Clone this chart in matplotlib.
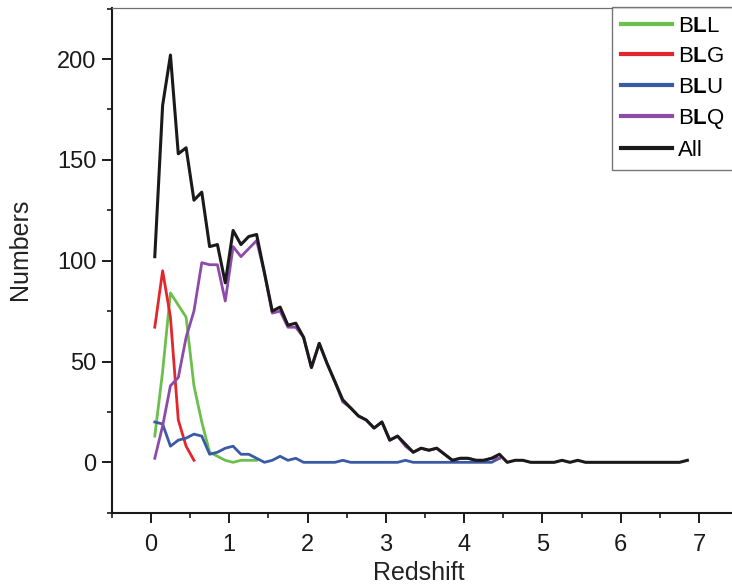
import matplotlib
matplotlib.use("Agg")
import matplotlib.pyplot as plt
from matplotlib.ticker import MultipleLocator

plt.rcParams['font.family'] = ['Liberation Sans', 'DejaVu Sans']
plt.rcParams['mathtext.fontset'] = 'custom'
plt.rcParams['mathtext.rm'] = 'Liberation Sans'
plt.rcParams['mathtext.bf'] = 'Liberation Sans:bold'

# redshift bin centres (bin width 0.1)
z_all = [round(0.05 + 0.1 * i, 2) for i in range(69)]

n_all = [102, 177, 202, 153, 156, 130, 134, 107, 108, 89,
         115, 108, 112, 113, 94, 75, 77, 68, 69, 62,
         47, 59, 49, 40, 31, 27, 23, 21, 17, 20,
         11, 13, 9, 5, 7, 6, 7, 4, 1, 2,
         2, 1, 1, 2, 4, 0, 1, 1, 0, 0,
         0, 0, 1, 0, 1, 0, 0, 0, 0, 0,
         0, 0, 0, 0, 0, 0, 0, 0, 1]

n_bll = [13, 45, 84, 78, 72, 38, 20, 5, 3, 1, 0, 1, 1, 1]
n_blg = [67, 95, 72, 21, 8, 1]
n_blu = [20, 19, 8, 11, 12, 14, 13, 4, 5, 7,
         8, 4, 4, 2, 0, 1, 3, 1, 2, 0,
         0, 0, 0, 0, 1, 0, 0, 0, 0, 0,
         0, 0, 1, 0, 0, 0, 0, 0, 0, 0,
         0, 0, 0, 0, 2]
n_blq = [2, 18, 38, 42, 62, 75, 99, 98, 98, 80,
         107, 102, 106, 110, 94, 74, 75, 67, 67, 62,
         47, 59, 49, 40, 30, 27, 23, 21, 17, 20,
         11, 13, 8, 5, 7, 6, 7, 4, 1, 2,
         2, 1, 1, 2, 2]

series = [
    ('B$\\mathbf{L}$L', n_bll, '#6cbf4c'),
    ('B$\\mathbf{L}$G', n_blg, '#e3262b'),
    ('B$\\mathbf{L}$U', n_blu, '#3b5aa6'),
    ('B$\\mathbf{L}$Q', n_blq, '#8e4aa8'),
    ('All', n_all, '#1a1a1a'),
]

fig = plt.figure(figsize=(7.32, 5.88), dpi=100)
ax = fig.add_axes([0.1526, 0.128, 0.856, 0.859])

# draw the sub-classes first, the total on top
for label, vals, color in series[:4]:
    ax.plot(z_all[:len(vals)], vals, color=color, lw=2.0, label=label)
ax.plot(z_all, n_all, color=series[4][2], lw=2.2, label=series[4][0])

ax.set_xlim(-0.5, 7.5)
ax.set_ylim(-25, 225.5)
ax.xaxis.set_major_locator(MultipleLocator(1))
ax.xaxis.set_minor_locator(MultipleLocator(0.5))
ax.yaxis.set_major_locator(MultipleLocator(50))
ax.yaxis.set_minor_locator(MultipleLocator(25))

for side in ['left', 'bottom']:
    ax.spines[side].set_linewidth(1.5)
    ax.spines[side].set_color('#1a1a1a')
ax.spines['top'].set_linewidth(0.9)
ax.spines['top'].set_color('#707070')
ax.spines['right'].set_visible(False)

ax.tick_params(which='major', direction='out', length=7, width=1.4,
               labelsize=17, colors='#1a1a1a', top=False, right=False)
ax.tick_params(which='minor', direction='out', length=3.5, width=1.2,
               top=False, right=False, colors='#1a1a1a')
ax.tick_params(axis='x', which='major', pad=8)
ax.tick_params(axis='y', which='major', pad=4)

ax.set_xlabel('Redshift', fontsize=18, color='#222222')
ax.set_ylabel('Numbers', fontsize=18, color='#222222')
ax.xaxis.set_label_coords(0.49, -0.096)
ax.yaxis.set_label_coords(-0.127, 0.522)

leg = ax.legend(loc='upper left', bbox_to_anchor=(612 / 732, 1 - 7 / 588),
                bbox_transform=fig.transFigure, fontsize=16, frameon=True,
                fancybox=False, handlelength=2.3, handletextpad=0.25,
                labelspacing=0.42, borderpad=0.4, borderaxespad=0)
leg.get_frame().set_edgecolor('#555555')
leg.get_frame().set_linewidth(1.0)
for line in leg.get_lines():
    line.set_linewidth(3.0)

fig.savefig('out.png', dpi=100)
